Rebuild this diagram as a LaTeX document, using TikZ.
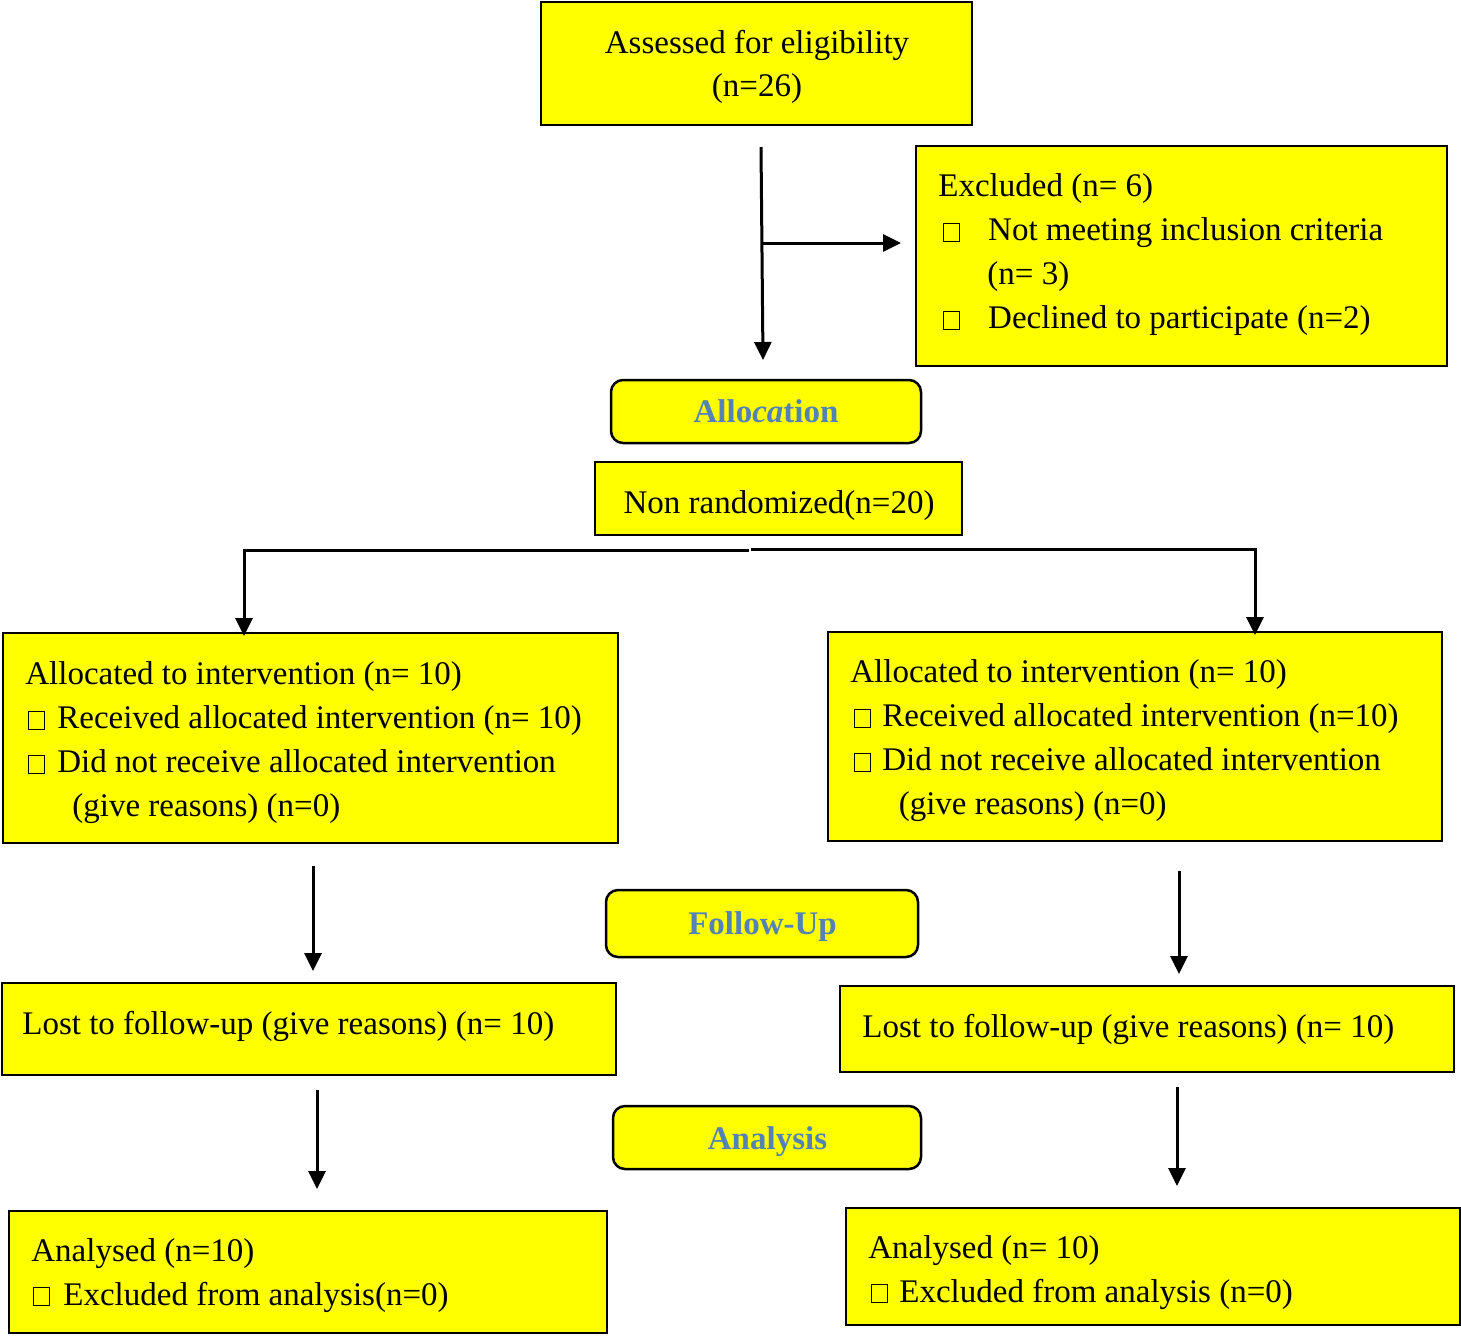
\documentclass[tikz,border=0pt]{standalone}
\usepackage{fontspec}
\setmainfont{Liberation Serif}
\usetikzlibrary{arrows.meta}
\definecolor{lblblue}{RGB}{84,130,183}
\definecolor{boxyellow}{RGB}{255,255,0}
\newcommand\ebox{{\setlength{\fboxsep}{0pt}\setlength{\fboxrule}{0.4pt}\fbox{\rule{0pt}{8.6pt}\hspace{7.4pt}}}}
\newcommand\mainfs{\fontsize{16.5}{22}\selectfont}
\newcommand\tlines[1]{\begin{tabular}[t]{@{}l@{}}#1\end{tabular}}
\newcommand\clines[1]{\begin{tabular}[t]{@{}c@{}}#1\end{tabular}}
\begin{document}
\begin{tikzpicture}[x=0.5pt,y=-0.5pt,
  boxs/.style={draw, line width=1.25pt, fill=boxyellow, inner sep=0pt},
  phase/.style={boxs, rounded corners=6pt},
  txt/.style={inner sep=0pt, font=\mainfs},
  ltxt/.style={txt, anchor=base west},
  ctxt/.style={txt, anchor=base},
  ptxt/.style={txt, anchor=base, font=\mainfs\bfseries, text=lblblue},
  conn/.style={line width=1.5pt, -{Triangle[length=9pt,width=8.5pt]}}]
\useasboundingbox (0,0) rectangle (1461,1335);

% boxes
\node[boxs, minimum width=215.5pt, minimum height=61.5pt] (assess) at (756.5,63.5) {};
\node[boxs, minimum width=265.5pt, minimum height=110pt] (excl) at (1181.5,256) {};
\node[phase, minimum width=155pt, minimum height=31.5pt] (alloc) at (766,411.5) {};
\node[boxs, minimum width=183.5pt, minimum height=36.5pt] (nonrand) at (778.5,498.5) {};
\node[boxs, minimum width=307.5pt, minimum height=105pt] (allocL) at (310.5,738) {};
\node[boxs, minimum width=307pt, minimum height=104.5pt] (allocR) at (1135,736.5) {};
\node[phase, minimum width=156pt, minimum height=33.5pt] (follow) at (762,923.5) {};
\node[boxs, minimum width=307pt, minimum height=46pt] (lostL) at (309,1029) {};
\node[boxs, minimum width=307pt, minimum height=43pt] (lostR) at (1147,1029) {};
\node[phase, minimum width=154pt, minimum height=31.5pt] (analysis) at (767,1137.5) {};
\node[boxs, minimum width=299pt, minimum height=61pt] (anaL) at (308,1272) {};
\node[boxs, minimum width=307pt, minimum height=58.5pt] (anaR) at (1153,1266.5) {};

% texts
\node[ctxt] (assess-t) at (757,53) {\fontsize{16.5}{21.5}\selectfont\clines{Assessed for eligibility\\(n=26)}};
\node[ltxt] (excl-t) at (938,196.5) {\tlines{Excluded (n= 6)\\
   \hspace{2.5pt}\ebox\hspace{14.2pt}Not meeting inclusion criteria\\
   \hspace{24.5pt}(n= 3)\\
   \hspace{2.5pt}\ebox\hspace{14.2pt}Declined to participate (n=2)}};
\node[ptxt] (alloc-t) at (766,422.5) {Allo\textit{ca}tion};
\node[ctxt] (nonrand-t) at (779,513.5) {Non randomized(n=20)};
\node[ltxt] (allocL-t) at (25,684.5) {\tlines{Allocated to intervention (n= 10)\\
   \hspace{1.5pt}\ebox\hspace{6.3pt}Received allocated intervention (n= 10)\\
   \hspace{1.5pt}\ebox\hspace{6.3pt}Did not receive allocated intervention\\
   \hspace{23.5pt}(give reasons) (n=0)}};
\node[ltxt] (allocR-t) at (850,682.5) {\tlines{Allocated to intervention (n= 10)\\
   \hspace{2pt}\ebox\hspace{5.8pt}Received allocated intervention (n=10)\\
   \hspace{2pt}\ebox\hspace{5.8pt}Did not receive allocated intervention\\
   \hspace{24.2pt}(give reasons) (n=0)}};
\node[ptxt] (follow-t) at (762.5,934.5) {Follow-Up};
\node[ltxt] (lostL-t) at (22,1034) {Lost to follow-up (give reasons) (n= 10)};
\node[ltxt] (lostR-t) at (862,1037) {Lost to follow-up (give reasons) (n= 10)};
\node[ptxt] (analysis-t) at (767.5,1149.5) {Analysis};
\node[ltxt] (anaL-t) at (31,1261) {\tlines{Analysed (n=10)\\
   \hspace{1pt}\ebox\hspace{6.8pt}Excluded from analysis(n=0)}};
\node[ltxt] (anaR-t) at (868,1258) {\tlines{Analysed (n= 10)\\
   \hspace{1.5pt}\ebox\hspace{5.8pt}Excluded from analysis (n=0)}};

% connector coordinates
\coordinate (a1) at (761,147);
\coordinate (a2) at (763,360);
\coordinate (b1) at (761,243);
\coordinate (b2) at (901,243);
\coordinate (s1) at (749,550);
\coordinate (s2) at (244,550);
\coordinate (s3) at (244,636);
\coordinate (t1) at (751,549);
\coordinate (t2) at (1255,549);
\coordinate (t3) at (1255,635);
\coordinate (l1) at (313,866);
\coordinate (l2) at (313,971);
\coordinate (r1) at (1179,871);
\coordinate (r2) at (1179,974);
\coordinate (l3) at (317,1090);
\coordinate (l4) at (317,1189);
\coordinate (r3) at (1177,1087);
\coordinate (r4) at (1177,1186);

\draw[conn] (a1) -- (a2);
\draw[conn] (b1) -- (b2);
\draw[conn] (s1) -- (s2) -- (s3);
\draw[conn] (t1) -- (t2) -- (t3);
\draw[conn] (l1) -- (l2);
\draw[conn] (r1) -- (r2);
\draw[conn] (l3) -- (l4);
\draw[conn] (r3) -- (r4);
\end{tikzpicture}
\end{document}
